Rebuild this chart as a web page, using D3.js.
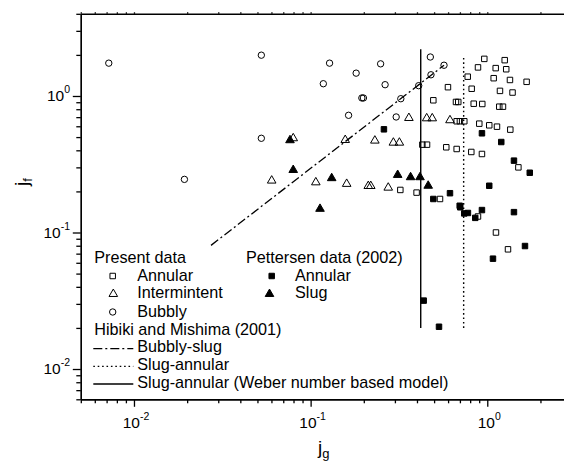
<!DOCTYPE html>
<html>
<head>
<meta charset="utf-8">
<script src="https://cdn.jsdelivr.net/npm/d3@7"></script>
<style>
  body { margin: 0; background: #fff; }
  svg { display: block; font-family: "Liberation Sans", Arial, sans-serif; }
</style>
</head>
<body>
<div id="chart"></div>
<script>
// Present data - [jg, jf]
var bubbly = [[0.0072, 1.74], [0.0526, 1.99], [0.128, 1.74], [0.181, 1.47], [0.118, 1.23],
  [0.249, 1.72], [0.195, 0.967], [0.199, 0.967], [0.164, 0.722], [0.0526, 0.49],
  [0.476, 1.93], [0.264, 1.21], [0.569, 1.68], [0.48, 1.43], [0.409, 1.19],
  [0.324, 0.955], [0.305, 0.702], [0.0193, 0.245]];
var intermittent = [[0.0797, 0.49], [0.157, 0.476], [0.231, 0.471], [0.36, 0.69], [0.454, 0.686],
  [0.488, 0.686], [0.615, 0.664], [0.294, 0.455], [0.318, 0.455], [0.0602, 0.24],
  [0.107, 0.233], [0.16, 0.227], [0.212, 0.219], [0.219, 0.219], [0.275, 0.213]];
var annular = [[0.671, 0.653], [0.70, 0.653], [0.741, 0.653], [0.429, 0.44], [0.456, 0.44],
  [0.586, 0.421], [0.671, 0.409], [0.812, 0.389], [0.933, 0.376], [0.962, 1.87],
  [1.255, 1.83], [0.886, 1.62], [1.116, 1.60], [1.28, 1.57], [0.775, 1.385],
  [1.087, 1.35], [1.344, 1.31], [1.67, 1.27], [0.599, 1.16], [0.816, 1.13],
  [1.18, 1.09], [1.39, 1.06], [0.495, 0.93], [0.665, 0.904], [0.685, 0.904],
  [0.838, 0.878], [0.937, 0.874], [1.169, 0.835], [1.227, 0.835], [0.901, 0.627],
  [1.026, 0.61], [1.135, 0.596], [1.35, 0.567], [0.322, 0.205], [0.398, 0.196],
  [0.54, 0.176], [0.886, 0.131], [1.50, 0.30], [1.12, 0.1], [1.31, 0.0753]];
// Pettersen data (2002)
var pAnnular = [[0.26, 0.57], [0.933, 0.533], [1.2, 0.46], [1.416, 0.336], [0.495, 0.176],
  [0.615, 0.194], [0.698, 0.157], [0.703, 0.153], [0.741, 0.138], [0.777, 0.139],
  [0.933, 0.146], [0.855, 0.128], [1.026, 0.22], [1.74, 0.274], [1.416, 0.141],
  [1.635, 0.0796], [1.077, 0.0643], [0.4365, 0.0317], [0.533, 0.0204]];
var pSlug = [[0.0764, 0.474], [0.0797, 0.287], [0.1316, 0.25], [0.113, 0.149],
  [0.311, 0.264], [0.368, 0.254], [0.416, 0.254], [0.463, 0.22]];
// Hibiki and Mishima (2001) transition lines
var bubblySlugLine = [[0.0273, 0.0805], [0.569, 1.68]];
var slugAnnularLine = [[0.735, 0.02], [0.735, 2.0]];
var weberLine = [[0.42, 0.02], [0.42, 2.2]];

var xMajor = [0.01, 0.1, 1];
var xMajorExp = ['-2', '-1', '0'];
var yMajor = [0.01, 0.1, 1];
var yMajorExp = ['-2', '-1', '0'];

var legendLeft = ['Present data', 'Annular', 'Intermintent', 'Bubbly', 'Hibiki and Mishima (2001)',
  'Bubbly-slug', 'Slug-annular', 'Slug-annular (Weber number based model)'];
var legendRight = ['Pettersen data (2002)', 'Annular', 'Slug'];

function minorTicks(lo, hi) {
  var t = [];
  for (var e = -3; e <= 1; e++) {
    for (var m = 1; m < 10; m++) {
      var v = m * Math.pow(10, e);
      if (v >= lo && v <= hi) t.push(v);
    }
  }
  return t;
}

function renderChart() {
  var W = 564, H = 464;
  var left = 80.8, top = 13.8, bottom = 399.3;
  var xScale = d3.scaleLog().domain([0.005, 5]).range([left, left + 3 * 176.65]);
  var yScale = d3.scaleLog().domain([0.006, 4]).range([bottom, top]);

  var svg = d3.select('#chart').append('svg')
    .attr('width', W).attr('height', H);
  svg.append('rect').attr('width', W).attr('height', H).attr('fill', '#fff');

  var xMinor = minorTicks(0.005, 5).filter(function(v) { return xMajor.indexOf(v) < 0; });
  var yMinor = minorTicks(0.006, 4).filter(function(v) { return yMajor.indexOf(v) < 0; });

  // Axes
  function drawAxis(axis, transform) {
    var g = svg.append('g').attr('transform', transform).call(axis);
    g.select('.domain').attr('stroke', '#000').attr('stroke-width', 1.4);
    g.selectAll('.tick line').attr('stroke', '#000').attr('stroke-width', 1.3);
    g.selectAll('.tick text').remove();
    return g;
  }
  drawAxis(d3.axisBottom(xScale).tickValues(xMinor).tickSize(4).tickSizeOuter(0), 'translate(0,' + bottom + ')');
  drawAxis(d3.axisBottom(xScale).tickValues(xMajor).tickSize(7.5).tickSizeOuter(0), 'translate(0,' + bottom + ')');
  drawAxis(d3.axisTop(xScale).tickValues(xMinor.concat(xMajor)).tickSize(1.5).tickSizeOuter(0), 'translate(0,' + top + ')');
  drawAxis(d3.axisLeft(yScale).tickValues(yMinor).tickSize(4.5).tickSizeOuter(0), 'translate(' + left + ',0)');
  drawAxis(d3.axisLeft(yScale).tickValues(yMajor).tickSize(8).tickSizeOuter(0), 'translate(' + left + ',0)');

  // Tick labels with superscripts
  xMajor.forEach(function(v, i) {
    var t = svg.append('text')
      .attr('x', xScale(v) + 2)
      .attr('y', 428)
      .attr('text-anchor', 'middle')
      .attr('font-size', 15.5);
    t.append('tspan').text('10');
    t.append('tspan').attr('dy', -8).attr('font-size', 10.5).text(xMajorExp[i]);
  });
  yMajor.forEach(function(v, i) {
    var t = svg.append('text')
      .attr('x', 70)
      .attr('y', yScale(v) + 5)
      .attr('text-anchor', 'end')
      .attr('font-size', 15.5);
    t.append('tspan').text('10');
    t.append('tspan').attr('dy', -8).attr('font-size', 10.5).text(yMajorExp[i]);
  });

  // Axis titles
  var xt = svg.append('text').attr('x', 318).attr('y', 454).attr('font-size', 19);
  xt.append('tspan').text('j');
  xt.append('tspan').attr('dy', 4).attr('font-size', 13).text('g');
  var yt = svg.append('text').attr('transform', 'translate(28,186) rotate(-90)').attr('font-size', 19);
  yt.append('tspan').text('j');
  yt.append('tspan').attr('dy', 4).attr('font-size', 13).text('f');

  // Transition lines
  var line = d3.line()
    .x(function(d) { return xScale(d[0]); })
    .y(function(d) { return yScale(d[1]); });
  svg.append('path').datum(bubblySlugLine).attr('d', line)
    .attr('fill', 'none').attr('stroke', '#000').attr('stroke-width', 1.3)
    .attr('stroke-dasharray', '9,3,2,3');
  svg.append('path').datum(slugAnnularLine).attr('d', line)
    .attr('fill', 'none').attr('stroke', '#000').attr('stroke-width', 1.4)
    .attr('stroke-dasharray', '1.6,2.8');
  svg.append('path').datum(weberLine).attr('d', line)
    .attr('fill', 'none').attr('stroke', '#000').attr('stroke-width', 1.4);

  // Markers
  var shapes = {
    square: d3.symbol().type(d3.symbolSquare).size(30),
    circle: d3.symbol().type(d3.symbolCircle).size(32),
    triangle: d3.symbol().type(d3.symbolTriangle).size(32)
  };
  function drawSeries(data, shape, filled) {
    svg.append('g').selectAll('path')
      .data(data)
      .enter()
      .append('path')
      .attr('d', shapes[shape])
      .attr('transform', function(d) {
        return 'translate(' + xScale(d[0]) + ',' + yScale(d[1]) + ')';
      })
      .attr('fill', filled ? '#000' : '#fff')
      .attr('fill-opacity', filled ? 1 : 0)
      .attr('stroke', '#000')
      .attr('stroke-width', 1);
  }
  drawSeries(bubbly, 'circle', false);
  drawSeries(intermittent, 'triangle', false);
  drawSeries(annular, 'square', false);
  drawSeries(pAnnular, 'square', true);
  drawSeries(pSlug, 'triangle', true);

  // Legend
  var rowY = [262.7, 280.7, 298.3, 316.5, 334.5, 352.3, 369.8, 387.5];
  var textX = [94.3, 137.3, 137.3, 137.3, 94.3, 137.3, 137.3, 137.3];
  legendLeft.forEach(function(s, i) {
    svg.append('text').attr('x', textX[i]).attr('y', rowY[i]).attr('font-size', 16.2).text(s);
  });
  legendRight.forEach(function(s, i) {
    svg.append('text').attr('x', i === 0 ? 246 : 295).attr('y', rowY[i]).attr('font-size', 16.2).text(s);
  });
  var legMarks = [
    { x: 112.7, y: 276, shape: 'square', filled: false },
    { x: 113.3, y: 294, shape: 'triangle', filled: false },
    { x: 112.7, y: 312, shape: 'circle', filled: false },
    { x: 271.7, y: 276, shape: 'square', filled: true },
    { x: 269.5, y: 294, shape: 'triangle', filled: true }
  ];
  svg.append('g').selectAll('path')
    .data(legMarks)
    .enter()
    .append('path')
    .attr('d', function(d) { return shapes[d.shape](); })
    .attr('transform', function(d) { return 'translate(' + d.x + ',' + d.y + ')'; })
    .attr('fill', function(d) { return d.filled ? '#000' : 'none'; })
    .attr('stroke', '#000')
    .attr('stroke-width', 1);
  var legLines = [
    { y: 348.7, dash: '9,3,2,3' },
    { y: 366.3, dash: '1.6,2.8' },
    { y: 384, dash: null }
  ];
  svg.append('g').selectAll('line')
    .data(legLines)
    .enter()
    .append('line')
    .attr('x1', 93.3).attr('x2', 133.3)
    .attr('y1', function(d) { return d.y; })
    .attr('y2', function(d) { return d.y; })
    .attr('stroke', '#000').attr('stroke-width', 1.3)
    .attr('stroke-dasharray', function(d) { return d.dash; });
}

renderChart();
</script>
</body>
</html>
